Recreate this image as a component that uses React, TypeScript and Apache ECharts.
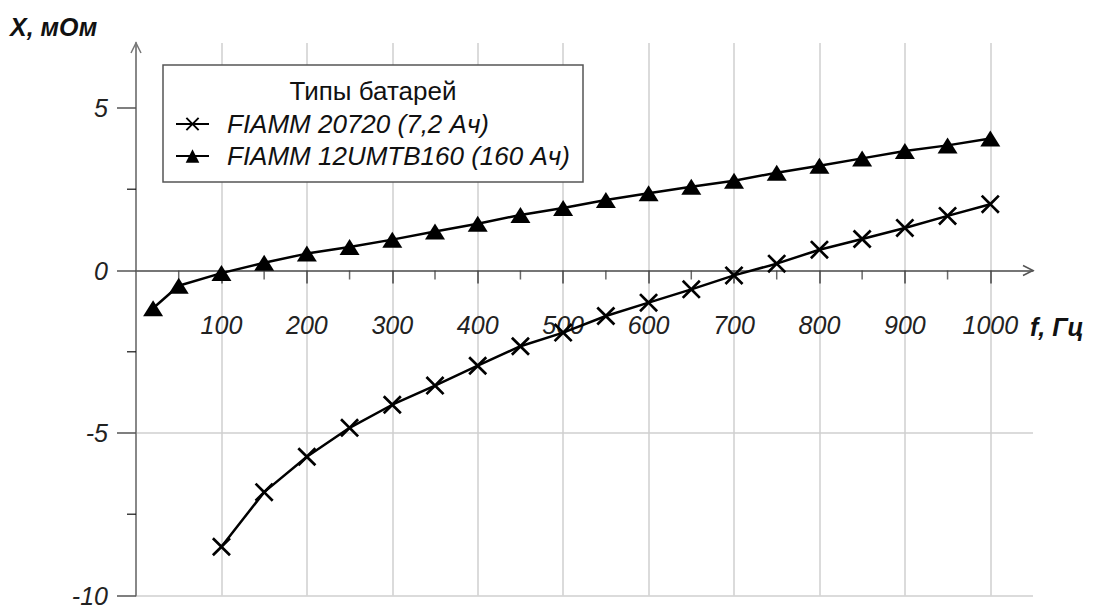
import React, { useEffect, useRef } from 'react';
import * as echarts from 'echarts';

const seriesNames = ['FIAMM 20720 (7,2 Ач)', 'FIAMM 12UMTB160 (160 Ач)'];
const legendTitle = 'Типы батарей';
const yAxisTitle = 'X, мОм';
const xAxisTitle = 'f, Гц';

const freqCross = [100, 150, 200, 250, 300, 350, 400, 450, 500, 550, 600, 650, 700, 750, 800, 850, 900, 950, 1000];
const reactCross = [-8.5, -6.82, -5.73, -4.84, -4.13, -3.54, -2.93, -2.33, -1.91, -1.4, -0.99, -0.58, -0.15, 0.21, 0.64, 0.97, 1.31, 1.68, 2.04];

const freqTri = [20, 50, 100, 150, 200, 250, 300, 350, 400, 450, 500, 550, 600, 650, 700, 750, 800, 850, 900, 950, 1000];
const reactTri = [-1.16, -0.47, -0.08, 0.24, 0.52, 0.72, 0.95, 1.2, 1.44, 1.71, 1.92, 2.17, 2.38, 2.58, 2.76, 3.01, 3.22, 3.45, 3.68, 3.85, 4.06];

const xMajorTicks = [100, 200, 300, 400, 500, 600, 700, 800, 900, 1000];
const xMinorTicks = [50, 150, 250, 350, 450, 550, 650, 750, 850, 950];
const yMajorTicks = [-10, -5, 0, 5];
const yMinorTicks = [-7.5, -2.5, 2.5];

const FONT = "'Liberation Sans', Arial, sans-serif";
const CROSS = 'path://M0,2 L2,0 L10,8 L18,0 L20,2 L12,10 L20,18 L18,20 L10,12 L2,20 L0,18 L8,10 Z';

export default function App() {
  const ref = useRef<HTMLDivElement>(null);
  useEffect(() => {
    document.body.style.margin = '0';
    if (!ref.current) return;
    const chart = echarts.init(ref.current, null, { renderer: 'svg' });
    const labelStyle = { fontSize: 25, fontStyle: 'italic', fontFamily: FONT, color: '#222' };
    const option: any = {
      animation: false,
      backgroundColor: '#fff',
      grid: { left: 136, top: 43, width: 897, height: 555 },
      xAxis: {
        type: 'value', min: 0, max: 1050, interval: 100,
        axisLine: { show: true, onZero: true, lineStyle: { color: '#555', width: 1.5 } },
        axisTick: { show: true, customValues: xMajorTicks, length: 13, lineStyle: { color: '#444', width: 1.5 } },
        axisLabel: { show: true, customValues: xMajorTicks, margin: -283, formatter: (v: number) => String(v), ...labelStyle },
        splitLine: { show: true, showMinLine: true, showMaxLine: true, lineStyle: { color: '#cfcfcf', width: 1.5 } },
      },
      yAxis: {
        type: 'value', min: -10, max: 7, interval: 5,
        axisLine: { show: true, onZero: true, lineStyle: { color: '#888', width: 2 } },
        axisTick: { show: true, customValues: yMajorTicks, length: 19, lineStyle: { color: '#555', width: 1.5 } },
        axisLabel: { show: true, customValues: yMajorTicks, margin: 28, formatter: (v: number) => String(v), ...labelStyle },
        splitLine: { show: true, showMinLine: true, showMaxLine: false, lineStyle: { color: '#cfcfcf', width: 1.5 } },
      },
      legend: {
        orient: 'vertical', left: 175, top: 110, padding: 0, itemGap: 4,
        itemWidth: 33, itemHeight: 17, z: 10,
        data: seriesNames,
        textStyle: { fontSize: 26, fontStyle: 'italic', fontFamily: FONT, color: '#111', lineHeight: 28, padding: [0, 0, 0, 13] },
      },
      series: [
        {
          name: seriesNames[0], type: 'line',
          data: freqCross.map((f, i) => [f, reactCross[i]]),
          symbol: CROSS, symbolSize: 19, showAllSymbol: true,
          lineStyle: { color: '#000', width: 2.5 }, itemStyle: { color: '#000' }, z: 3,
        },
        {
          name: seriesNames[1], type: 'line',
          data: freqTri.map((f, i) => [f, reactTri[i]]),
          symbol: 'triangle', symbolSize: [20, 16], showAllSymbol: true,
          lineStyle: { color: '#000', width: 2.5 }, itemStyle: { color: '#000' }, z: 3,
        },
        {
          name: 'xMinorTicks', type: 'scatter', silent: true, clip: false, z: 2,
          data: xMinorTicks.map((v) => [v, 0]),
          symbol: 'rect', symbolSize: [1.5, 9], symbolOffset: [0, 4.5],
          itemStyle: { color: '#444' },
        },
        {
          name: 'yMinorTicks', type: 'scatter', silent: true, clip: false, z: 2,
          data: yMinorTicks.map((v) => [0, v]),
          symbol: 'rect', symbolSize: [9, 1.5], symbolOffset: [-4.5, 0],
          itemStyle: { color: '#111' },
        },
      ],
    };
    chart.setOption(option);
    const xTip = chart.convertToPixel({ xAxisIndex: 0, yAxisIndex: 0 }, [1050, 0]) as number[];
    const yTip = chart.convertToPixel({ xAxisIndex: 0, yAxisIndex: 0 }, [0, 7]) as number[];
    chart.setOption({
      graphic: [
        { type: 'rect', z: 5, shape: { x: 163, y: 65, width: 420, height: 117 }, style: { fill: '#fff', stroke: '#555', lineWidth: 1.5 } },
        { type: 'text', z: 6, x: 373, y: 91, style: { text: legendTitle, font: `26px ${FONT}`, fill: '#111', align: 'center', verticalAlign: 'middle' } },
        { type: 'text', z: 6, x: 10, y: 27, style: { text: yAxisTitle, font: `italic bold 25px ${FONT}`, fill: '#111', align: 'left', verticalAlign: 'middle' } },
        { type: 'text', z: 6, x: 1030, y: 327, style: { text: xAxisTitle, font: `italic bold 25px ${FONT}`, fill: '#111', align: 'left', verticalAlign: 'middle' } },
        { type: 'polyline', z: 6, shape: { points: [[xTip[0] - 10, xTip[1] - 5], [xTip[0], xTip[1]], [xTip[0] - 10, xTip[1] + 5]] }, style: { stroke: '#555', lineWidth: 1.5, fill: 'none' } },
        { type: 'polyline', z: 6, shape: { points: [[yTip[0] - 5, yTip[1] + 10], [yTip[0], yTip[1]], [yTip[0] + 5, yTip[1] + 10]] }, style: { stroke: '#777', lineWidth: 1.5, fill: 'none' } },
      ],
    });
    return () => chart.dispose();
  }, []);
  return <div ref={ref} style={{ width: 1095, height: 608 }} />;
}
